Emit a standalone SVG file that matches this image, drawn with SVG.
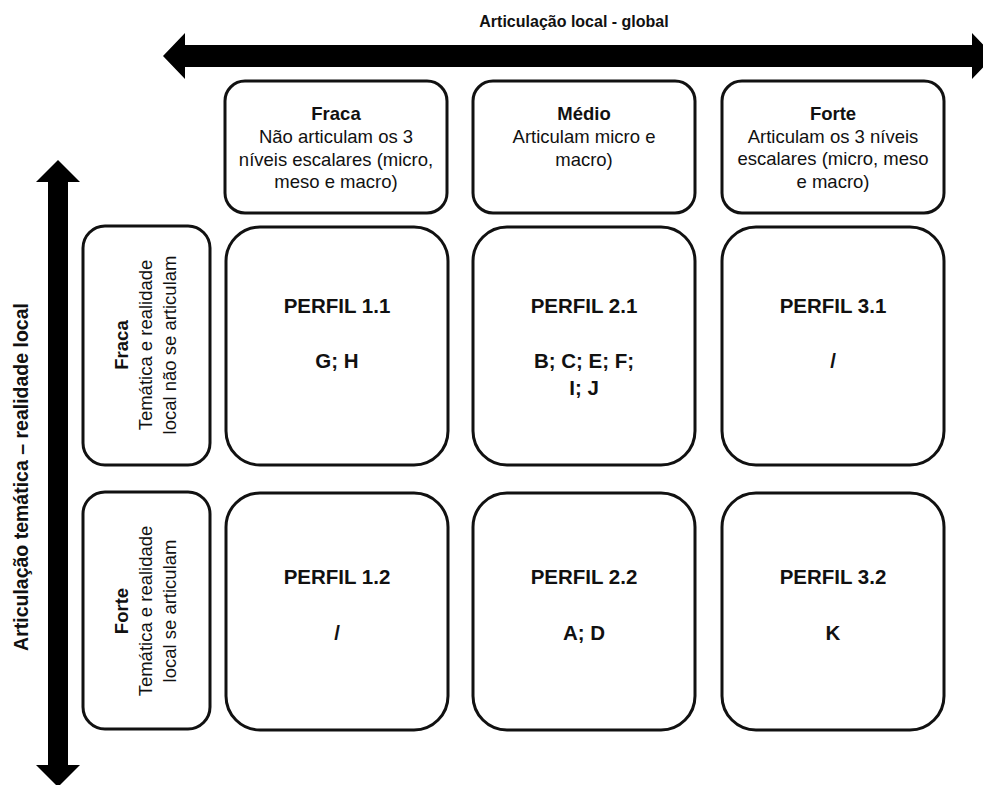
<svg xmlns="http://www.w3.org/2000/svg" width="983" height="785" viewBox="0 0 983 785">
<style>
.box{fill:#fff;stroke:#111;stroke-width:3}
.t{font-family:"Liberation Sans",Arial,sans-serif;fill:#111;text-anchor:middle}
.h{font-size:18.5px}
.b{font-weight:bold}
.p{font-size:20.5px;font-weight:bold}
.ax{font-size:16px;font-weight:bold}
.axv{font-size:19.5px;font-weight:bold}
</style>
<rect width="983" height="785" fill="#fff"/>
<g id="connectors">
<polygon id="axis-h" fill="#000" points="163,56 185,33 185,45 972,45 972,33 994,56 972,79 972,67 185,67 185,79"/>
<polygon id="axis-v" fill="#000" points="58,160 80,182 68,182 68,765 80,765 58,787 36,765 48,765 48,182 36,182"/>
</g>
<g id="title-h"><text class="t ax" x="574" y="27">Articulação local - global</text></g>
<g id="title-v"><text class="t axv" transform="translate(28,477) rotate(-90)">Articulação temática – realidade local</text></g>

<g id="col-fraca">
<rect class="box" x="225" y="81" width="222" height="132" rx="20"/>
<text class="t h b" x="336" y="120">Fraca</text>
<text class="t h" x="336" y="143">Não articulam os 3</text>
<text class="t h" x="336" y="165.5">níveis escalares (micro,</text>
<text class="t h" x="336" y="188">meso e macro)</text>
</g>
<g id="col-medio">
<rect class="box" x="473" y="81" width="222" height="132" rx="20"/>
<text class="t h b" x="584" y="120">Médio</text>
<text class="t h" x="584" y="143">Articulam micro e</text>
<text class="t h" x="584" y="165.5">macro)</text>
</g>
<g id="col-forte">
<rect class="box" x="722" y="81" width="222" height="132" rx="20"/>
<text class="t h b" x="833" y="120">Forte</text>
<text class="t h" x="833" y="142.5">Articulam os 3 níveis</text>
<text class="t h" x="833" y="165">escalares (micro, meso</text>
<text class="t h" x="833" y="187.5">e macro)</text>
</g>

<g id="row-fraca">
<rect class="box" x="83" y="226" width="127" height="239" rx="22"/>
<g transform="translate(0,345)">
<text class="t h b" transform="translate(128,0) rotate(-90)">Fraca</text>
<text class="t h" transform="translate(152,0) rotate(-90)">Temática e realidade</text>
<text class="t h" transform="translate(176,0) rotate(-90)">local não se articulam</text>
</g>
</g>
<g id="row-forte">
<rect class="box" x="83" y="492" width="127" height="237" rx="22"/>
<g transform="translate(0,611)">
<text class="t h b" transform="translate(128,0) rotate(-90)">Forte</text>
<text class="t h" transform="translate(152,0) rotate(-90)">Temática e realidade</text>
<text class="t h" transform="translate(176,0) rotate(-90)">local se articulam</text>
</g>
</g>

<g id="perfil-1-1">
<rect class="box" x="226" y="227" width="222" height="238" rx="34"/>
<text class="t p" x="337" y="313">PERFIL 1.1</text>
<text class="t p" x="337" y="368">G; H</text>
</g>
<g id="perfil-2-1">
<rect class="box" x="473" y="227" width="222" height="238" rx="34"/>
<text class="t p" x="584" y="313">PERFIL 2.1</text>
<text class="t p" x="584" y="368">B; C; E; F;</text>
<text class="t p" x="584" y="395">I; J</text>
</g>
<g id="perfil-3-1">
<rect class="box" x="722" y="227" width="222" height="238" rx="34"/>
<text class="t p" x="833" y="313">PERFIL 3.1</text>
<text class="t p" x="833" y="368">/</text>
</g>
<g id="perfil-1-2">
<rect class="box" x="226" y="493" width="222" height="237" rx="34"/>
<text class="t p" x="337" y="584">PERFIL 1.2</text>
<text class="t p" x="337" y="640">/</text>
</g>
<g id="perfil-2-2">
<rect class="box" x="473" y="493" width="222" height="237" rx="34"/>
<text class="t p" x="584" y="584">PERFIL 2.2</text>
<text class="t p" x="584" y="640">A; D</text>
</g>
<g id="perfil-3-2">
<rect class="box" x="722" y="493" width="222" height="237" rx="34"/>
<text class="t p" x="833" y="584">PERFIL 3.2</text>
<text class="t p" x="833" y="640">K</text>
</g>
</svg>
